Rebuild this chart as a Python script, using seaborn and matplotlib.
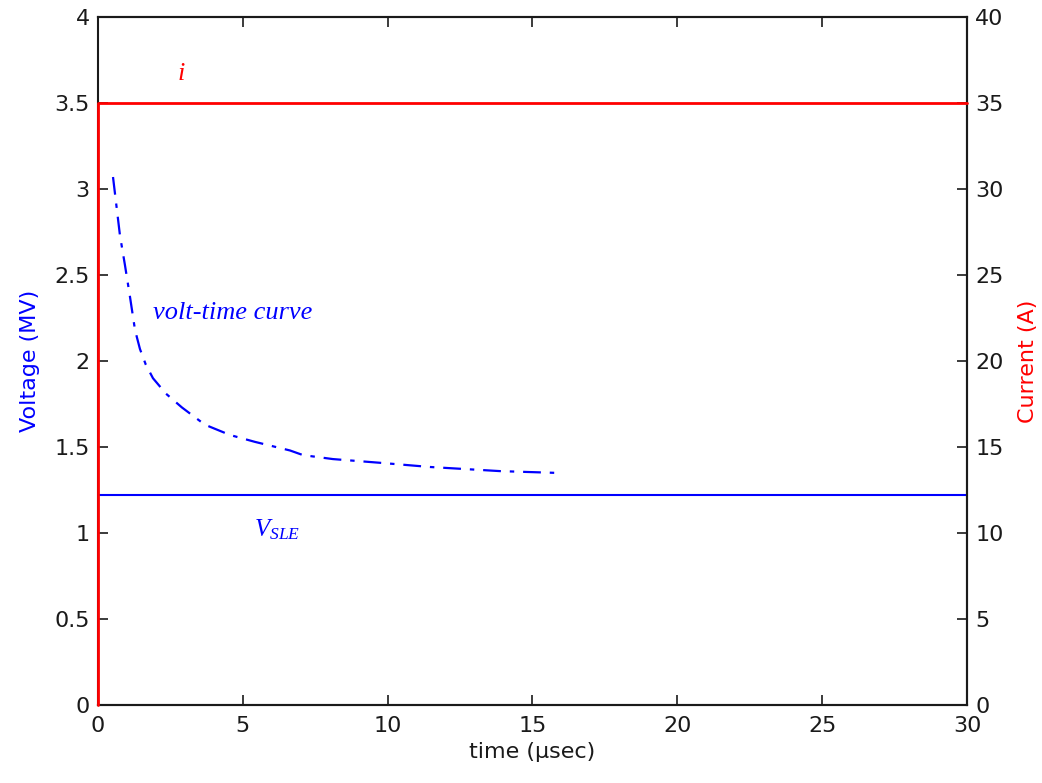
import matplotlib
matplotlib.use("Agg")
import matplotlib.pyplot as plt
import seaborn as sns
import pandas as pd

# volt-time characteristic (time in microseconds, voltage in MV)
vt_time = [0.52, 0.76, 0.93, 1.10, 1.28, 1.45, 1.65, 1.90, 2.35, 2.90, 3.69,
           4.56, 5.42, 6.63, 7.08, 8.11, 9.84, 11.46, 13.88, 15.95]
vt_volt = [3.07, 2.73, 2.56, 2.38, 2.18, 2.07, 1.98, 1.90, 1.81, 1.73, 1.63,
           1.57, 1.53, 1.48, 1.453, 1.430, 1.407, 1.384, 1.360, 1.349]

# switching-level voltage
sle_time = [0, 30]
sle_volt = [1.22, 1.22]

# applied current step
cur_time = [0, 0, 30]
cur_amp = [0, 35, 35]

x_ticks = [0, 5, 10, 15, 20, 25, 30]
v_ticks = [0, 0.5, 1, 1.5, 2, 2.5, 3, 3.5, 4]
v_ticklabels = ["0", "0.5", "1", "1.5", "2", "2.5", "3", "3.5", "4"]
i_ticks = [0, 5, 10, 15, 20, 25, 30, 35, 40]

sns.set_style("white")
plt.rcParams["font.family"] = ["DejaVu Sans"]
plt.rcParams["mathtext.fontset"] = "custom"
plt.rcParams["mathtext.it"] = "Liberation Serif:italic"
plt.rcParams["mathtext.rm"] = "Liberation Serif"

BLUE = "#0000ff"
RED = "#ff0000"
INK = "#1a1a1a"
FS = 16

fig = plt.figure(figsize=(10.42, 7.83), dpi=100)
ax = fig.add_axes([0.094, 0.0996, 0.834, 0.8786])

df_vt = pd.DataFrame({"t": vt_time, "v": vt_volt})
df_sle = pd.DataFrame({"t": sle_time, "v": sle_volt})
df_cur = pd.DataFrame({"t": cur_time, "i": cur_amp})

sns.lineplot(data=df_vt, x="t", y="v", ax=ax, color=BLUE, linewidth=1.6,
             linestyle=(0, (8, 4, 2, 4)), sort=False, estimator=None)
sns.lineplot(data=df_sle, x="t", y="v", ax=ax, color=BLUE, linewidth=1.5,
             sort=False, estimator=None)

ax.set_xlim(0, 30)
ax.set_ylim(0, 4)
ax.set_xticks(x_ticks)
ax.set_xticklabels([str(t) for t in x_ticks])
ax.set_yticks(v_ticks)
ax.set_yticklabels(v_ticklabels)
ax.set_xlabel("time (\u00b5sec)", fontsize=FS, color=INK, labelpad=4)
ax.set_ylabel("Voltage (MV)", fontsize=FS, color=BLUE, labelpad=10)
ax.tick_params(axis="x", direction="in", top=True, bottom=True, length=7,
               width=1.2, labelsize=FS, colors=INK, pad=8)
ax.tick_params(axis="y", direction="in", left=True, right=False, length=7,
               width=1.2, labelsize=FS, colors=INK, pad=6)

ax2 = ax.twinx()
sns.lineplot(data=df_cur, x="t", y="i", ax=ax2, color=RED, linewidth=2.0,
             sort=False, estimator=None, clip_on=False, zorder=5)
ax2.set_ylim(0, 40)
ax2.set_xlim(0, 30)
ax2.set_yticks(i_ticks)
ax2.set_yticklabels([str(t) for t in i_ticks])
ax2.set_ylabel("Current (A)", fontsize=FS, color=RED, labelpad=10)
ax2.set_xlabel("")
ax2.tick_params(axis="y", direction="in", left=False, right=True, length=7,
                width=1.2, labelsize=FS, colors=INK, pad=6)

for a in (ax, ax2):
    for s in a.spines.values():
        s.set_color(INK)
        s.set_linewidth(1.5)
ax2.spines["left"].set_visible(False)

ax.text(2.87, 3.67, "i", color=RED, fontsize=19, family="Liberation Serif",
        style="italic", ha="center", va="center")
ax.text(1.9, 2.28, "volt-time curve", color=BLUE, fontsize=19,
        family="Liberation Serif", style="italic", ha="left", va="center")
ax.text(5.4, 1.02, r"$V_{SLE}$", color=BLUE, fontsize=18, ha="left",
        va="center")

fig.savefig("out.png", dpi=100, facecolor="white")
